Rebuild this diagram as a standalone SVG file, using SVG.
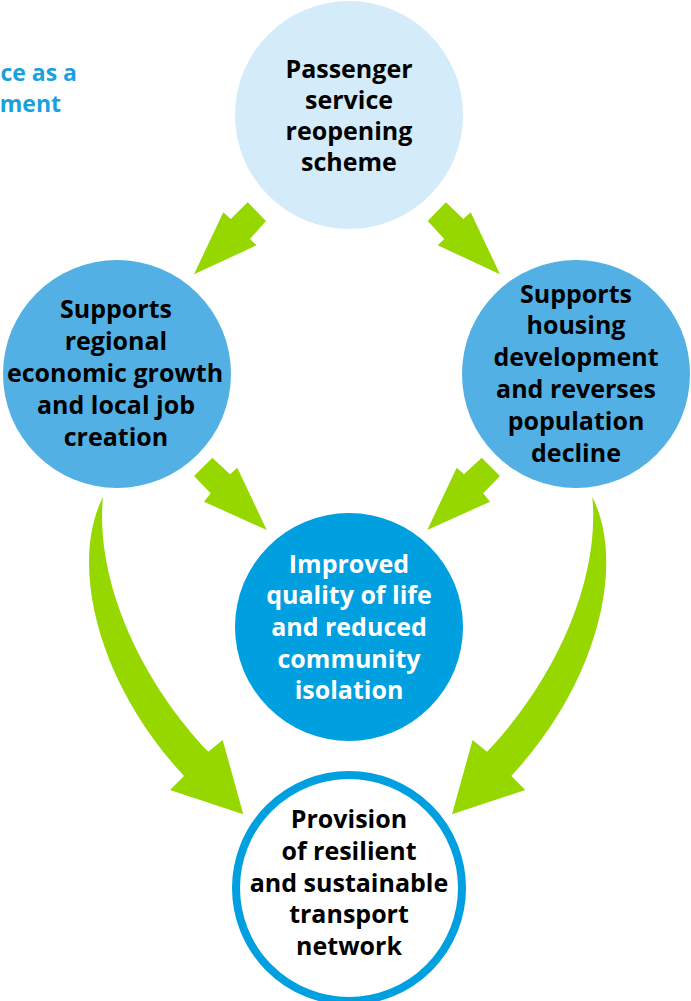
<svg xmlns="http://www.w3.org/2000/svg" width="691" height="1001" viewBox="0 0 691 1001">
<style>
  .t { font-family: "Open Sans", "Noto Sans", "Liberation Sans", sans-serif; font-weight: 700; font-size: 25px; text-anchor: middle; fill: #000; }
  .w { fill: #fff; }
  .hd { font-family: "Open Sans", "Noto Sans", "Liberation Sans", sans-serif; font-weight: 700; font-size: 23px; text-anchor: end; fill: #1aa0dc; }
  .arrow { fill: #97d700; stroke: none; }
</style>
<rect width="691" height="1001" fill="#fff"/>
<g id="heading">
  <text class="hd" x="77" y="81">ce as a</text>
  <text class="hd" x="61" y="112">ment</text>
</g>
<g id="connectors">
  <polygon class="arrow" points="247.7,202.3 230.7,219 223.3,212.3 194,274.3 256.7,245.3 250,239 266,221"/>
  <polygon class="arrow" points="446,202.3 463.3,219 470.7,212.3 500,274.3 437.7,245.3 444.3,239 427.7,221"/>
  <polygon class="arrow" points="212.3,457.7 230,474.3 237.3,467.7 266.7,530 204,501.7 210.7,493.3 194,476"/>
  <polygon class="arrow" points="481.7,457.7 464,474.3 456.7,467.7 427.3,530 490,501.7 483.3,493.3 500,476"/>
  <path class="arrow" d="M103,497 C70,562 95,680 184,776 L170,790 L243.3,814.3 L222.7,740 L208.3,751.7 C140,680 95,580 103,497 Z"/>
  <path class="arrow" d="M592.3,497 C625.3,562 600.3,680 511.3,776 L525.3,790 L452,814.3 L472.6,740 L487,751.7 C555.3,680 600.3,580 592.3,497 Z"/>
</g>
<g id="node-passenger">
  <circle cx="349" cy="115" r="114" fill="#d4ebfa"/>
  <text class="t" x="349" y="78">Passenger</text>
  <text class="t" x="349" y="109">service</text>
  <text class="t" x="349" y="140">reopening</text>
  <text class="t" x="349" y="171">scheme</text>
</g>
<g id="node-regional">
  <circle cx="117" cy="374" r="114" fill="#52b0e4"/>
  <text class="t" x="116" y="318">Supports</text>
  <text class="t" x="116" y="350">regional</text>
  <text class="t" x="115" y="382">economic growth</text>
  <text class="t" x="116" y="414">and local job</text>
  <text class="t" x="116" y="446">creation</text>
</g>
<g id="node-housing">
  <circle cx="576" cy="374" r="114" fill="#52b0e4"/>
  <text class="t" x="576" y="303">Supports</text>
  <text class="t" x="576" y="334">housing</text>
  <text class="t" x="576" y="366">development</text>
  <text class="t" x="576" y="398">and reverses</text>
  <text class="t" x="576" y="430">population</text>
  <text class="t" x="576" y="462">decline</text>
</g>
<g id="node-quality">
  <circle cx="349" cy="627" r="114" fill="#009fe0"/>
  <text class="t w" x="349" y="573">Improved</text>
  <text class="t w" x="349" y="604">quality of life</text>
  <text class="t w" x="349" y="636">and reduced</text>
  <text class="t w" x="349" y="668">community</text>
  <text class="t w" x="349" y="699">isolation</text>
</g>
<g id="node-provision">
  <circle cx="349" cy="888" r="113" fill="#fff" stroke="#009fe0" stroke-width="8"/>
  <text class="t" x="349" y="828">Provision</text>
  <text class="t" x="349" y="860">of resilient</text>
  <text class="t" x="349" y="892">and sustainable</text>
  <text class="t" x="349" y="923">transport</text>
  <text class="t" x="349" y="955">network</text>
</g>
</svg>
